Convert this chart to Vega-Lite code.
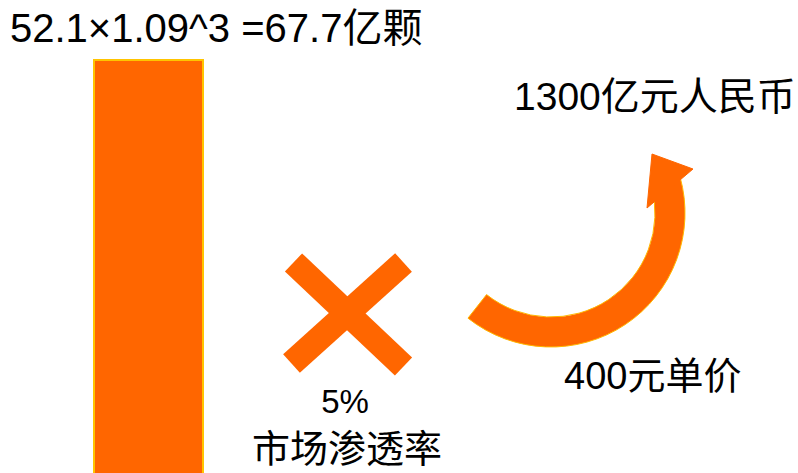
{
  "$schema": "https://vega.github.io/schema/vega-lite/v6.json",
  "width": 798,
  "height": 473,
  "padding": 0,
  "autosize": "none",
  "background": "white",
  "config": {"view": {"stroke": null}},
  "layer": [
    {
      "data": {"values": [{"item": "市场规模", "x0": 94, "x1": 203, "y0": 60, "y1": 490}]},
      "mark": {"type": "rect", "fill": "#FF6600", "stroke": "#FFC400", "strokeWidth": 2},
      "encoding": {
        "x": {"field": "x0", "type": "quantitative", "scale": {"domain": [0, 798], "nice": false, "zero": false}, "axis": null},
        "x2": {"field": "x1"},
        "y": {"field": "y0", "type": "quantitative", "scale": {"domain": [0, 473], "nice": false, "zero": false, "reverse": true}, "axis": null},
        "y2": {"field": "y1"}
      }
    },
    {
      "data": {"values": [
        {"arm": "a", "xa": 293.5, "ya": 262.5, "xb": 403.5, "yb": 366.5},
        {"arm": "b", "xa": 403.5, "ya": 262.5, "xb": 291.5, "yb": 363.5}
      ]},
      "mark": {"type": "rule", "color": "#FF6600", "strokeWidth": 25, "strokeCap": "butt"},
      "encoding": {
        "x": {"field": "xa", "type": "quantitative", "axis": null},
        "y": {"field": "ya", "type": "quantitative", "axis": null},
        "x2": {"field": "xb"},
        "y2": {"field": "yb"}
      }
    },
    {
      "data": {"values": [{"cx": 551, "cy": 213, "t1": 1.30, "t2": 3.81}]},
      "mark": {"type": "arc", "innerRadius": 104, "outerRadius": 134, "fill": "#FF6600", "stroke": "#FFB800", "strokeWidth": 1},
      "encoding": {
        "x": {"field": "cx", "type": "quantitative", "axis": null},
        "y": {"field": "cy", "type": "quantitative", "axis": null},
        "theta": {"field": "t1", "type": "quantitative", "scale": null, "stack": null},
        "theta2": {"field": "t2"}
      }
    },
    {
      "data": {"values": [
        {"o": 1, "px": 652, "py": 154},
        {"o": 2, "px": 693, "py": 169},
        {"o": 3, "px": 647, "py": 208}
      ]},
      "mark": {"type": "line", "interpolate": "linear-closed", "fill": "#FF6600", "stroke": "#FF6600", "strokeWidth": 1},
      "encoding": {
        "x": {"field": "px", "type": "quantitative", "axis": null},
        "y": {"field": "py", "type": "quantitative", "axis": null},
        "order": {"field": "o"}
      }
    },
    {
      "data": {"values": [
        {"label": "52.1×1.09^3 =67.7亿颗", "tx": 10, "ty": 42, "fs": 40},
        {"label": "1300亿元人民币", "tx": 514, "ty": 110, "fs": 39},
        {"label": "400元单价", "tx": 564, "ty": 389, "fs": 38}
      ]},
      "mark": {"type": "text", "align": "left", "baseline": "alphabetic", "font": "Liberation Sans, Noto Sans CJK SC", "color": "#000000"},
      "encoding": {
        "x": {"field": "tx", "type": "quantitative", "axis": null},
        "y": {"field": "ty", "type": "quantitative", "axis": null},
        "size": {"field": "fs", "type": "quantitative", "scale": null, "legend": null},
        "text": {"field": "label"}
      }
    },
    {
      "data": {"values": [
        {"label": "5%", "tx": 345, "ty": 413}
      ]},
      "mark": {"type": "text", "align": "center", "baseline": "alphabetic", "font": "Liberation Sans Narrow, Liberation Sans", "fontSize": 33, "color": "#000000"},
      "encoding": {
        "x": {"field": "tx", "type": "quantitative", "axis": null},
        "y": {"field": "ty", "type": "quantitative", "axis": null},
        "text": {"field": "label"}
      }
    },
    {
      "data": {"values": [
        {"label": "市场渗透率", "tx": 347, "ty": 462}
      ]},
      "mark": {"type": "text", "align": "center", "baseline": "alphabetic", "font": "Noto Sans CJK SC", "fontSize": 38, "color": "#000000"},
      "encoding": {
        "x": {"field": "tx", "type": "quantitative", "axis": null},
        "y": {"field": "ty", "type": "quantitative", "axis": null},
        "text": {"field": "label"}
      }
    }
  ]
}
